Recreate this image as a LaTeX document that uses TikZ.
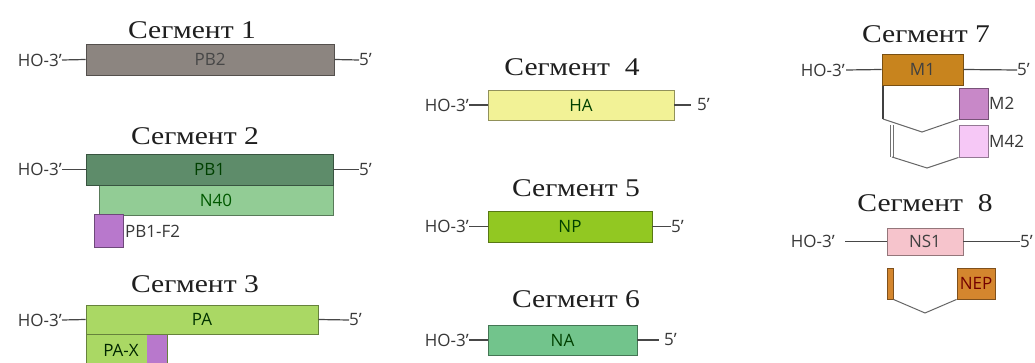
\documentclass[tikz,border=0pt]{standalone}
\usepackage{fontspec}
\setmainfont{Liberation Serif}
\newfontfamily\ttlfont[FakeStretch=1.16]{Liberation Serif}
\newfontfamily\lblfont{Open Sans}
\begin{document}
\begin{tikzpicture}[x=1pt,y=-1pt,
  ttl/.style={font=\ttlfont\fontsize{25.5}{27}\selectfont, text=black!88, anchor=base, inner sep=0},
  lbl/.style={font=\lblfont\fontsize{17}{19}\selectfont, text=black!78, inner sep=0},
  gene/.style={draw=#1!60!black, fill=#1, line width=0.9pt, inner sep=0, font=\lblfont\fontsize{17}{19}\selectfont, text=black!70},
  strand/.style={draw=black!72, line width=1.2pt},
  splice/.style={draw=black!60, line width=1pt},
]
\definecolor{cPB2}{HTML}{8C8580}
\definecolor{cPB1}{HTML}{5E8C6A}
\definecolor{cN40}{HTML}{92CC95}
\definecolor{cF2}{HTML}{B878CC}
\definecolor{cPA}{HTML}{AAD864}
\definecolor{cHA}{HTML}{F2F296}
\definecolor{cNP}{HTML}{92C822}
\definecolor{cNA}{HTML}{72C48C}
\definecolor{cM1}{HTML}{C8841E}
\definecolor{cM2}{HTML}{C888C8}
\definecolor{cM42}{HTML}{F6C8F6}
\definecolor{cNS1}{HTML}{F6C4CC}
\definecolor{cNEP}{HTML}{D4862E}
\useasboundingbox (0,0) rectangle (1035,363);
\fill[white] (0,0) rectangle (1035,363);

% Segment 1
\node[ttl] (t1) at (192,39) {Сегмент 1};
\node[gene=cPB2, minimum width=248pt, minimum height=31pt, text=black!72] (pb2) at (210,59.5) {PB2};
\node[lbl, anchor=east] (ho1) at (62,60) {HO-3’};
\node[lbl, anchor=west] (e1) at (359,60) {5’};
\draw[strand] (ho1.east) -- (pb2.west);
\draw[strand] (pb2.east) -- (e1.west);

% Segment 2
\node[ttl] (t2) at (195,145) {Сегмент 2};
\node[gene=cN40, minimum width=234pt, minimum height=30pt, text=green!35!black] (n40) at (216,200) {N40};
\node[gene=cPB1, minimum width=247pt, minimum height=31pt, text=green!25!black] (pb1) at (209.5,169.5) {PB1};
\node[gene=cF2, minimum width=29pt, minimum height=33pt] (f2) at (108.5,230.5) {};
\node[lbl, anchor=west] (f2l) at (125,231) {PB1-F2};
\node[lbl, anchor=east] (ho2) at (62,169.5) {HO-3’};
\node[lbl, anchor=west] (e2) at (359,169.5) {5’};
\draw[strand] (ho2.east) -- (pb1.west);
\draw[strand] (pb1.east) -- (e2.west);

% Segment 3
\node[ttl] (t3) at (195,292) {Сегмент 3};
\node[gene=cPA, minimum width=232pt, minimum height=29pt, text=green!20!black] (pa) at (202,319.5) {PA};
\fill[cPA] (86,334) rectangle (147,364);
\fill[cF2] (147,334) rectangle (167,364);
\draw[draw=cPA!60!black, line width=0.9pt] (86,364) -- (86,334) -- (167,334) -- (167,364);
\node[lbl, text=green!15!black] (pax) at (121,350) {PA-X};
\node[lbl, anchor=east] (ho3) at (62,320) {HO-3’};
\node[lbl, anchor=west] (e3) at (349,320) {5’};
\draw[strand] (ho3.east) -- (pa.west);
\draw[strand] (pa.east) -- (e3.west);

% Segment 4
\node[ttl] (t4) at (572,76) {Сегмент\ \ 4};
\node[gene=cHA, minimum width=186pt, minimum height=30pt, text=green!25!black] (ha) at (581,105) {HA};
\node[lbl, anchor=east] (ho4) at (469,105) {HO-3’};
\node[lbl, anchor=west] (e4) at (697,105) {5’};
\coordinate (r4) at (691,105);
\draw[strand] (ho4.east) -- (ha.west);
\draw[strand] (ha.east) -- (r4);

% Segment 5
\node[ttl] (t5) at (576,197) {Сегмент 5};
\node[gene=cNP, minimum width=164pt, minimum height=31pt, text=green!25!black] (np) at (570,226.5) {NP};
\node[lbl, anchor=east] (ho5) at (469,226.5) {HO-3’};
\node[lbl, anchor=west] (e5) at (671,226.5) {5’};
\draw[strand] (ho5.east) -- (np.west);
\draw[strand] (np.east) -- (e5.west);

% Segment 6
\node[ttl] (t6) at (576,307) {Сегмент 6};
\node[gene=cNA, minimum width=149pt, minimum height=30pt, text=green!25!black] (na) at (562.5,340) {NA};
\node[lbl, anchor=east] (ho6) at (469,340) {HO-3’};
\node[lbl, anchor=west] (e6) at (664,340) {5’};
\coordinate (r6) at (659,340);
\draw[strand] (ho6.east) -- (na.west);
\draw[strand] (na.east) -- (r6);

% Segment 7
\node[ttl] (t7) at (926,43) {Сегмент 7};
\node[gene=cM1, minimum width=81pt, minimum height=31pt, text=black!75] (m1) at (922.5,69.5) {M1};
\node[lbl, anchor=east] (ho7) at (845,70) {HO-3’};
\node[lbl, anchor=west] (e7) at (1017,70) {5’};
\coordinate (l7) at (846,70);
\draw[strand] (l7) -- (m1.west);
\draw[strand] (m1.east) -- (e7.west);
\node[gene=cM2, minimum width=29pt, minimum height=31pt] (m2) at (973.5,103.5) {};
\node[gene=cM42, minimum width=29pt, minimum height=32pt] (m42) at (973.5,141) {};
\node[lbl, anchor=west] (m2l) at (989,103) {M2};
\node[lbl, anchor=west] (m42l) at (989,141) {M42};
\coordinate (a7) at (883,86);
\coordinate (b7) at (883,119);
\coordinate (c7) at (922,132);
\draw[black!75, line width=2.5pt] (a7) -- (b7);
\draw[splice] (b7) -- (c7) -- (m2.south west);
\coordinate (d7) at (892,125);
\coordinate (f7) at (892,157);
\coordinate (g7) at (927,168);
\draw[black!55, line width=4pt] (d7) -- (f7);
\draw[white, line width=2pt] (d7) -- (f7);
\draw[splice] (f7) -- (g7) -- (m42.south west);

% Segment 8
\node[ttl] (t8) at (925,212) {Сегмент\ \ 8};
\node[gene=cNS1, minimum width=76pt, minimum height=27pt, text=black!75] (ns1) at (925,241.5) {NS1};
\node[lbl, anchor=east] (ho8) at (835,241.5) {HO-3’};
\node[lbl, anchor=west] (e8) at (1020,241.5) {5’};
\coordinate (l8) at (845,241.5);
\draw[strand] (l8) -- (ns1.west);
\draw[strand] (ns1.east) -- (e8.west);
\node[gene=cNEP, minimum width=6pt, minimum height=31pt] (bar8) at (890,283.5) {};
\node[gene=cNEP, minimum width=38pt, minimum height=31pt, text=red!45!black] (nep) at (976,283.5) {NEP};
\coordinate (c8) at (925,313);
\draw[splice] (bar8.south east) -- (c8) -- (nep.south west);
\end{tikzpicture}
\end{document}
